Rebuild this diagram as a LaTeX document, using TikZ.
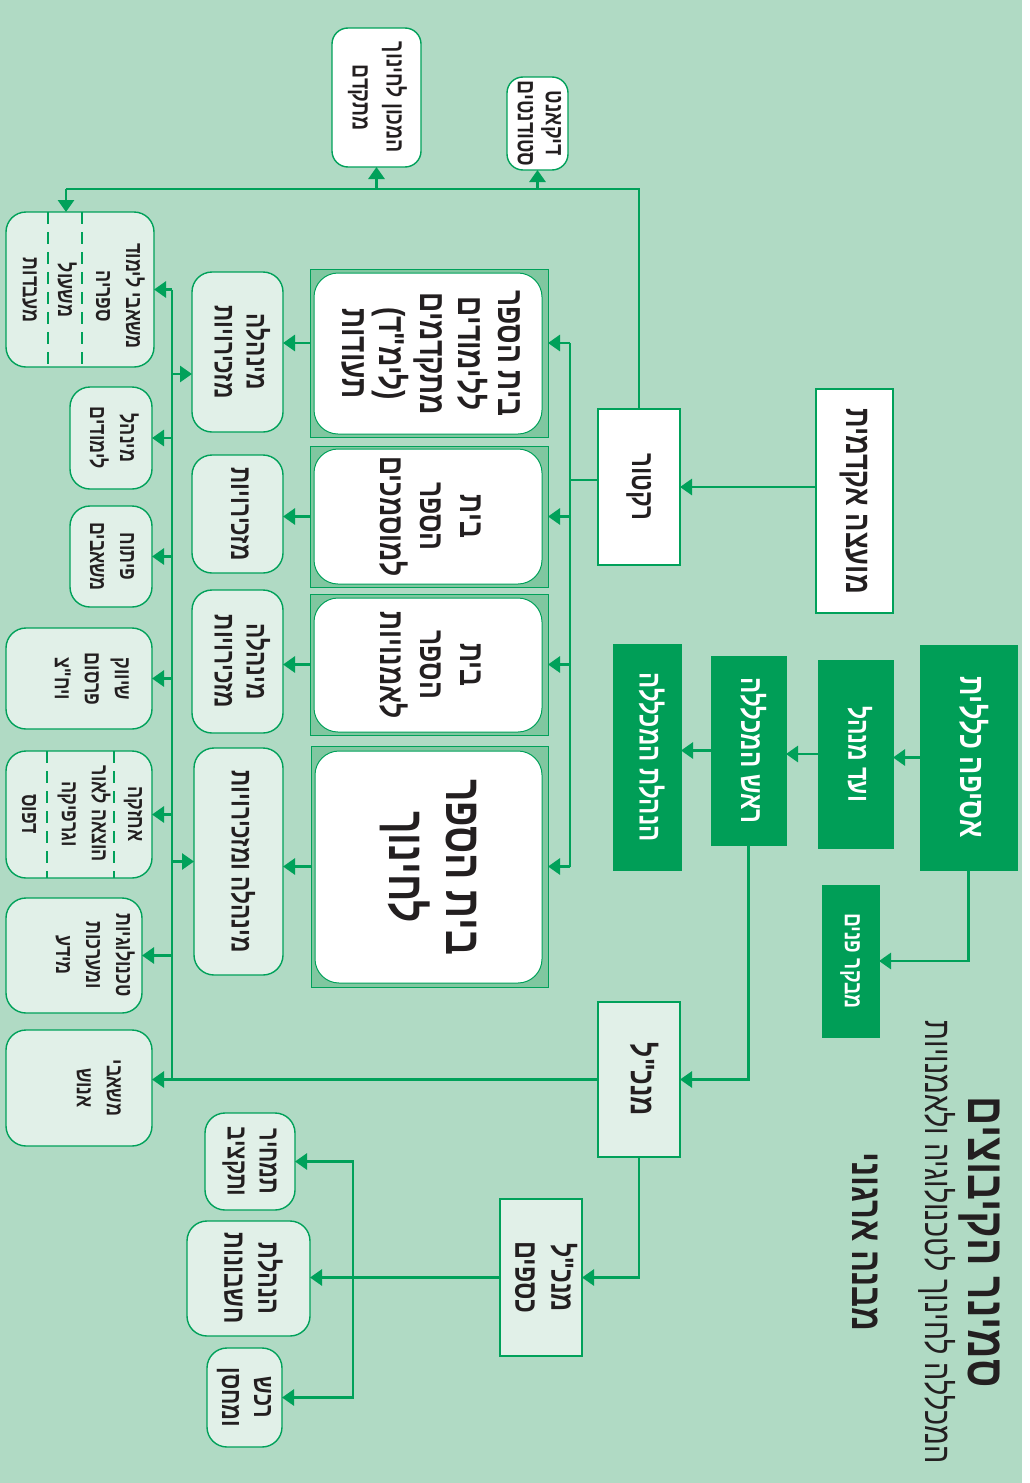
\documentclass[tikz,border=0pt]{standalone}
\usepackage{fontspec}
\usepackage{graphicx}
\usetikzlibrary{arrows.meta}
\TeXXeTstate=1
\newfontfamily\hebfont[Script=Hebrew, FakeStretch=0.78]{Liberation Sans}
\newcommand{\heb}[1]{\beginR #1\endR}
\newcommand{\rt}[1]{\rotatebox{-90}{\begin{tabular}{@{}c@{}}#1\end{tabular}}}
\newcommand{\hf}[2]{\hebfont\bfseries\fontsize{#1}{#2}\selectfont}
\newcommand{\hr}[2]{\hebfont\fontsize{#1}{#2}\selectfont}
\newcommand{\bx}[7]{\node[#2, minimum width={(#5-#3)*0.5pt}, minimum height={(#6-#4)*0.5pt}] (#1) at ({(#3+#5)/2},{(#4+#6)/2}) {#7};}
\definecolor{bgc}{RGB}{176,218,196}
\definecolor{gdark}{RGB}{0,158,87}
\definecolor{gline}{RGB}{0,161,90}
\definecolor{glight}{RGB}{225,240,232}
\definecolor{gframe}{RGB}{128,199,160}
\definecolor{ink}{RGB}{35,31,32}
\begin{document}
\begin{tikzpicture}[x=0.5pt,y=-0.5pt,
  base/.style={inner sep=0pt, outer sep=0pt, text=ink},
  dk/.style={base, fill=gdark, draw=gdark, text=white},
  wb/.style={base, fill=white, draw=gline, line width=1.4pt},
  lb/.style={base, fill=glight, draw=gline, line width=1.4pt},
  rb/.style={base, fill=glight, draw=gline, line width=0.7pt, rounded corners=10pt},
  wr/.style={base, fill=white, draw=gline, line width=0.7pt, rounded corners=8pt},
  frame/.style={base, fill=gframe, draw=gline, line width=0.5pt},
  schin/.style={base, fill=white, draw=gline, line width=0.5pt, rounded corners=12pt},
  txt/.style={base},
  sep/.style={draw=gline, line width=0.6pt, dash pattern=on 6pt off 4pt},
  conn/.style={draw=gline, line width=1.4pt},
  arr/.style={conn, -{Triangle[length=6pt,width=8pt]}}
]
\fill[white] (0,0) rectangle (1029,1483);
\fill[bgc] (0,0) rectangle (1022,1483);
\useasboundingbox (0,0) rectangle (1029,1483);

% title
\node[txt, font=\hf{26}{28}] (title) at (980,1242) {\rt{\heb{סמינר הקיבוצים}}};
\node[txt, font=\hr{18.5}{20}] (subtitle) at (935,1242) {\rt{\heb{המכללה לחינוך לטכנולוגיה ולאמנויות}}};
\node[txt, font=\hf{21}{23}] (mivne) at (862,1242) {\rt{\heb{מבנה ארגוני}}};

% top management
\bx{asefa}{dk, font=\hf{17.4}{19}}{920}{645}{1017}{870}{\rt{\heb{אסיפה כללית}}}
\bx{vaad}{dk, font=\hf{14.7}{16}}{818}{660}{893}{848}{\rt{\heb{ועד מנהל}}}
\bx{rosh}{dk, font=\hf{15.5}{17}}{711}{656}{786}{845}{\rt{\heb{ראש המכללה}}}
\bx{hanhala}{dk, font=\hf{15.4}{17}}{613}{644}{681}{870}{\rt{\heb{הנהלת המכללה}}}
\bx{mevaker}{dk, font=\hf{12.4}{14}}{822}{885}{879}{1037}{\rt{\heb{מבקר פנים}}}
\bx{moetza}{wb, font=\hf{17.5}{19}}{816}{389}{893}{613}{\rt{\heb{מועצה אקדמית}}}
\bx{rektor}{wb, font=\hf{15.5}{17}}{598}{409}{680}{565}{\rt{\heb{רקטור}}}
\bx{mankal}{lb, font=\hf{17}{19}}{598}{1002}{680}{1157}{\rt{\heb{מנכ"ל}}}
\bx{kesafim}{lb, font=\hf{16}{18}}{500}{1199}{582}{1356}{\rt{\heb{מנכ"ל}\\\heb{כספים}}}
\bx{tamhir}{rb, font=\hf{14}{16}}{205}{1113}{295}{1210}{\rt{\heb{תמחיר}\\\heb{ותקציב}}}
\bx{hashbonot}{rb, font=\hf{15}{17}}{187}{1221}{310}{1336}{\rt{\heb{הנהלת}\\\heb{חשבונות}}}
\bx{rechesh}{rb, font=\hf{14}{16}}{207}{1348}{282}{1447}{\rt{\heb{רכש}\\\heb{ומחסן}}}
\bx{machon}{wr, font=\hf{12.5}{17}}{332}{28}{421}{167}{\rt{\heb{המכון לחינוך}\\\heb{מתקדם}}}
\bx{dikanat}{wr, font=\hf{12.5}{14}}{507}{77}{568}{170}{\rt{\heb{דיקאנט}\\\heb{סטודנטים}}}

% schools
\bx{s1f}{frame}{310}{269}{548}{437}{}
\bx{s1}{schin, font=\hf{18}{18.8}}{314}{273}{542}{434}{\rt{\heb{בית הספר}\\\heb{ללימודים}\\\heb{מתקדמים}\\\heb{(לימ"ד)}\\\heb{תעודות}}}
\bx{s2f}{frame}{310}{446}{548}{587}{}
\bx{s2}{schin, font=\hf{17}{20}}{314}{449}{542}{584}{\rt{\heb{בית}\\\heb{הספר}\\\heb{למוסמכים}}}
\bx{s3f}{frame}{310}{594}{548}{735}{}
\bx{s3}{schin, font=\hf{17}{20}}{314}{598}{542}{732}{\rt{\heb{בית}\\\heb{הספר}\\\heb{לאמנויות}}}
\bx{s4f}{frame}{311}{746}{548}{987}{}
\bx{s4}{schin, font=\hf{25}{26}}{315}{751}{542}{983}{\rt{\heb{בית הספר}\\\heb{לחינוך}}}

% administrations
\bx{m1}{rb, font=\hf{14.5}{16}}{192}{272}{283}{432}{\rt{\heb{מינהלה}\\\heb{מזכירויות}}}
\bx{m2}{rb, font=\hf{14.5}{16}}{192}{455}{283}{573}{\rt{\heb{מזכירויות}}}
\bx{m3}{rb, font=\hf{14.5}{16}}{192}{590}{283}{733}{\rt{\heb{מינהלה}\\\heb{מזכירויות}}}
\bx{m4}{rb, font=\hf{14.5}{16}}{194}{748}{283}{975}{\rt{\heb{מינהלה ומזכירויות}}}

% left column
\bx{limud}{rb}{6}{212}{154}{367}{}
\draw[sep] (limud.north -| 48,0) -- (limud.south -| 48,0);
\draw[sep] (limud.north -| 82,0) -- (limud.south -| 82,0);
\node[txt, font=\hf{11.5}{15}] (limudA) at (117,296) {\rt{\heb{משאבי לימוד}\\\heb{ספריה}}};
\node[txt, font=\hf{11.5}{15}] (limudB) at (64,290) {\rt{\heb{משעול}}};
\node[txt, font=\hf{11.5}{15}] (limudC) at (29,290) {\rt{\heb{מעבדות}}};
\bx{minhal}{rb, font=\hf{11.5}{15}}{70}{387}{152}{489}{\rt{\heb{מינהל}\\\heb{לימודים}}}
\bx{pituach}{rb, font=\hf{11.5}{15}}{70}{506}{152}{607}{\rt{\heb{פיתוח}\\\heb{משאבים}}}
\bx{shivuk}{rb}{6}{628}{152}{729}{}
\node[txt, font=\hf{11.5}{15}] (shivukT) at (91,679) {\rt{\heb{שיווק}\\\heb{פרסום}\\\heb{ויח"צ}}};
\bx{achzaka}{rb}{6}{751}{152}{878}{}
\draw[sep] (achzaka.north -| 47,0) -- (achzaka.south -| 47,0);
\draw[sep] (achzaka.north -| 114,0) -- (achzaka.south -| 114,0);
\node[txt, font=\hf{11.5}{15}] (achzakaA) at (134,814) {\rt{\heb{אחזקה}}};
\node[txt, font=\hf{11.5}{15}] (achzakaB) at (83,814) {\rt{\heb{הוצאה לאור}\\\heb{וגרפיקה}}};
\node[txt, font=\hf{11.5}{15}] (achzakaC) at (28,814) {\rt{\heb{דפוס}}};
\bx{tech}{rb}{6}{898}{142}{1013}{}
\node[txt, font=\hf{11.5}{15}] (techT) at (92,955) {\rt{\heb{טכנולוגיות}\\\heb{ומערכות}\\\heb{מידע}}};
\bx{enosh}{rb}{6}{1030}{152}{1146}{}
\node[txt, font=\hf{11.5}{15}] (enoshT) at (98,1088) {\rt{\heb{משאבי}\\\heb{אנוש}}};

% connectors: governance
\draw[arr] (moetza.west |- rektor.east) -- (rektor.east);
\draw[arr] (asefa.west) -- (vaad.east |- asefa.west);
\draw[arr] (vaad.west) -- (rosh.east |- vaad.west);
\draw[arr] (rosh.west) -- (hanhala.east |- rosh.west);
\draw[arr] (asefa.south) |- (mevaker.east);
\draw[arr] (rosh.south) |- (mankal.east);
\draw[arr] (mankal.south) |- (kesafim.east);
\draw[arr] (kesafim.west) -- (hashbonot.east |- kesafim.west);
\coordinate (kb) at (353,1278);
\draw[arr] (kb) |- (tamhir.east);
\draw[arr] (kb) |- (rechesh.east);

% rektor to schools
\coordinate (rx) at (570,480);
\draw[conn] (rektor.west |- rx) -- (rx);
\coordinate (a1) at ([yshift=5pt]s1f.east);
\draw[conn] (rx |- a1) -- (rx |- s4f.east);
\draw[arr] (rx |- a1) -- (a1);
\draw[arr] (rx |- s2f.east) -- (s2f.east);
\draw[arr] (rx |- s3f.east) -- (s3f.east);
\draw[arr] (rx |- s4f.east) -- (s4f.east);
\coordinate (b1) at ([yshift=5pt]s1f.west);
\draw[arr] (b1) -- (m1.east |- b1);
\draw[arr] (s2f.west) -- (m2.east |- s2f.west);
\draw[arr] (s3f.west) -- (m3.east |- s3f.west);
\draw[arr] (s4f.west) -- (m4.east |- s4f.west);

% rektor to top units
\coordinate (tl) at (66,189);
\draw[conn] (rektor.north) |- (tl);
\draw[arr] (tl) -- (tl |- limud.north);
\draw[arr] (machon.south |- tl) -- (machon.south);
\draw[arr] (dikanat.south |- tl) -- (dikanat.south);

% CEO spine
\coordinate (spx) at (172,0);
\draw[conn] (spx |- limud.east) -- (spx |- mankal.west);
\draw[arr] (mankal.west) -- (enosh.east |- mankal.west);
\draw[arr] (spx |- limud.east) -- (limud.east);
\draw[arr] (spx |- minhal.east) -- (minhal.east);
\draw[arr] (spx |- pituach.east) -- (pituach.east);
\draw[arr] (spx |- shivuk.east) -- (shivuk.east);
\draw[arr] (spx |- achzaka.east) -- (achzaka.east);
\draw[arr] (spx |- tech.east) -- (tech.east);
\coordinate (c1) at ([yshift=-11pt]m1.west);
\draw[arr] (spx |- c1) -- (c1);
\draw[arr] (spx |- m4.west) -- (m4.west);
\end{tikzpicture}
\end{document}
